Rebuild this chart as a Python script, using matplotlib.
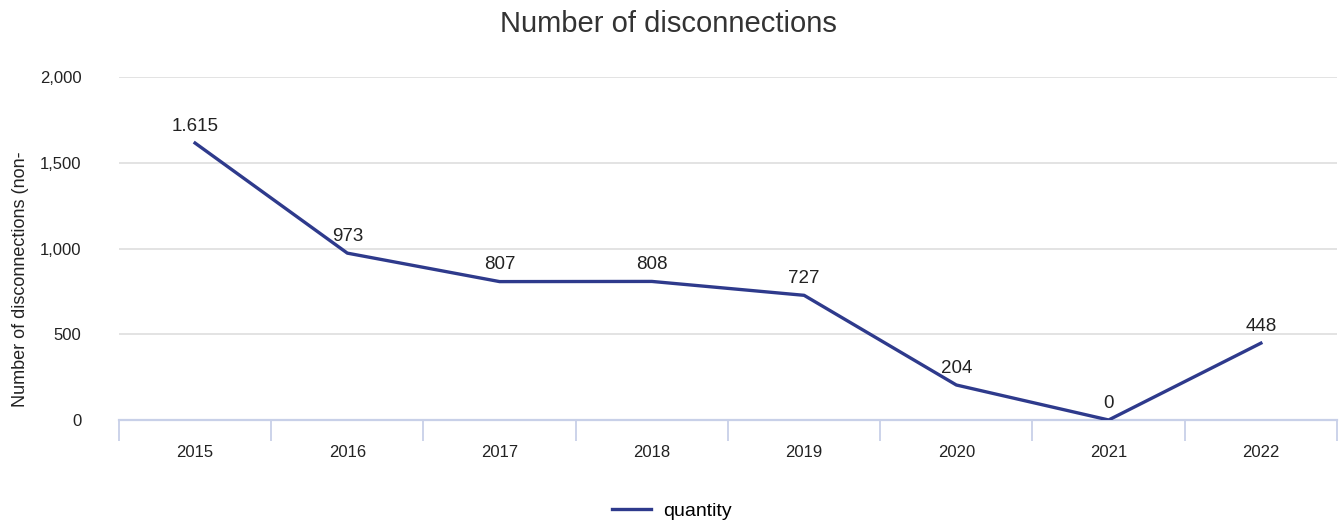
import numpy as np
import matplotlib.pyplot as plt

years = ['2015', '2016', '2017', '2018', '2019', '2020', '2021', '2022']
quantity = [1615, 973, 807, 808, 727, 204, 0, 448]
value_labels = ['1.615', '973', '807', '808', '727', '204', '0', '448']
yticks = [0, 500, 1000, 1500, 2000]

font = ['Liberation Sans', 'DejaVu Sans']

fig = plt.figure(figsize=(13.44, 5.24), dpi=100)
ax = fig.add_axes([0.0885, 0.1985, 0.9063, 0.6545])

x = np.arange(len(years))
line_color = '#2e3a8c'
ax.plot(x, quantity, color=line_color, linewidth=2.4, label='quantity',
        solid_joinstyle='round', zorder=3)

for xi, v, lab in zip(x, quantity, value_labels):
    ax.annotate(lab, (xi, v), xytext=(0, 6), textcoords='offset points',
                ha='center', va='bottom', fontsize=13.5, family=font,
                color='#222222')

ax.set_xlim(-0.5, len(years) - 0.5)
ax.set_ylim(0, 2000)
ax.set_yticks(yticks)
ax.set_yticklabels([f'{t:,}' for t in yticks], family=font, fontsize=12,
                   color='#222222')
ax.yaxis.grid(True, color='#e0e0e0', linewidth=1.3)
ax.set_axisbelow(True)
ax.tick_params(axis='y', length=0, pad=27)

# category labels in band centres, tick marks on band edges
ax.set_xticks(x)
ax.set_xticklabels(years, family=font, fontsize=12, color='#222222')
ax.set_xticks(np.arange(len(years) + 1) - 0.5, minor=True)
ax.tick_params(axis='x', which='major', length=0, pad=18)
ax.tick_params(axis='x', which='minor', length=15, width=1.3,
               color='#c8d0e8', direction='out')

for side in ['top', 'right', 'left']:
    ax.spines[side].set_visible(False)
ax.spines['bottom'].set_color('#c8d0e8')
ax.spines['bottom'].set_linewidth(1.6)

ax.set_ylabel('Number of disconnections (non-', family=font, fontsize=13,
              color='#222222')
ax.yaxis.set_label_coords(-0.074, 0.41)

fig.text(0.497, 0.955, 'Number of disconnections', ha='center', va='center',
         fontsize=21, family=font, color='#333333')

fig.legend(loc='lower center', bbox_to_anchor=(0.5, -0.025), frameon=False,
           prop={'family': font, 'size': 14}, handlelength=2.0,
           handletextpad=0.6)

fig.savefig('out.png', dpi=100, facecolor='white')
